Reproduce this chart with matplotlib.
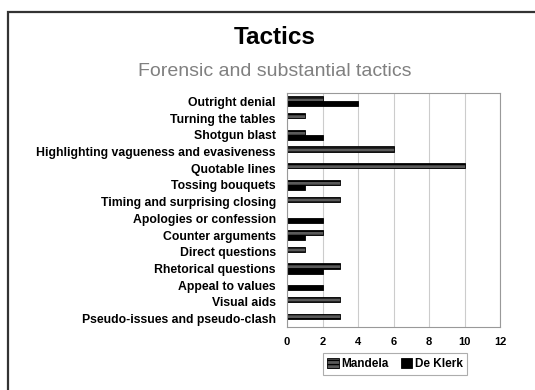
import matplotlib.pyplot as plt
import matplotlib.patches as patches
import numpy as np

plt.rcParams['font.family'] = ['Liberation Sans', 'DejaVu Sans']

categories = [
    "Outright denial", "Turning the tables", "Shotgun blast",
    "Highlighting vagueness and evasiveness", "Quotable lines",
    "Tossing bouquets", "Timing and surprising closing",
    "Apologies or confession", "Counter arguments", "Direct questions",
    "Rhetorical questions", "Appeal to values", "Visual aids",
    "Pseudo-issues and pseudo-clash",
]
mandela = [2, 1, 1, 6, 10, 3, 3, 0, 2, 1, 3, 0, 3, 3]
de_klerk = [4, 0, 2, 0, 0, 1, 0, 2, 1, 0, 2, 2, 0, 0]
x_ticks = [0, 2, 4, 6, 8, 10, 12]

W, H = 535, 390
fig = plt.figure(figsize=(W / 100, H / 100), dpi=100)

# outer chart frame, running off the right and bottom edges
fig.patches.append(patches.Rectangle((8 / W, -0.1), 1.1, 1 - 12 / H + 0.1,
                                     transform=fig.transFigure, fill=False,
                                     edgecolor='#333333', linewidth=1.6))

fig.text(275 / W, 1 - 38 / H, "Tactics", ha='center', va='center',
         fontsize=17.5, fontweight='bold')
fig.text(275 / W, 1 - 71 / H, "Forensic and substantial tactics",
         ha='center', va='center', fontsize=14, color='#808080')

ax = fig.add_axes([287 / W, 1 - 327 / H, (500 - 287) / W, (327 - 93) / H])
y = np.arange(len(categories))
h = 0.3
ax.barh(y - h / 2, mandela, height=h, color='#5a5a5a', edgecolor='black',
        linewidth=0.6, hatch='----', label='Mandela')
ax.barh(y + h / 2, de_klerk, height=h, color='black', edgecolor='black',
        linewidth=0.6, label='De Klerk')

ax.set_xlim(0, 12)
ax.set_ylim(len(categories) - 0.5, -0.5)
ax.set_xticks(x_ticks)
ax.set_xticklabels([str(t) for t in x_ticks], fontsize=8, fontweight='bold')
ax.set_yticks(y)
ax.set_yticklabels(categories, fontsize=8.8, fontweight='bold')
ax.tick_params(axis='y', length=0, pad=8)
ax.tick_params(axis='x', length=0, pad=7)
ax.xaxis.grid(True, color='#cccccc', linewidth=0.8)
ax.set_axisbelow(True)
for s in ax.spines.values():
    s.set_color('#999999')
    s.set_linewidth(0.8)

leg = fig.legend(loc='center', bbox_to_anchor=(395 / W, 1 - 364 / H), ncol=2,
                 frameon=True, fancybox=False, handlelength=1.0,
                 handleheight=0.9, handletextpad=0.2, columnspacing=1.0,
                 borderpad=0.4, prop={'weight': 'bold', 'size': 8.5})
leg.get_frame().set_edgecolor('#999999')
leg.get_frame().set_linewidth(0.8)

fig.savefig('out.png', dpi=100)
